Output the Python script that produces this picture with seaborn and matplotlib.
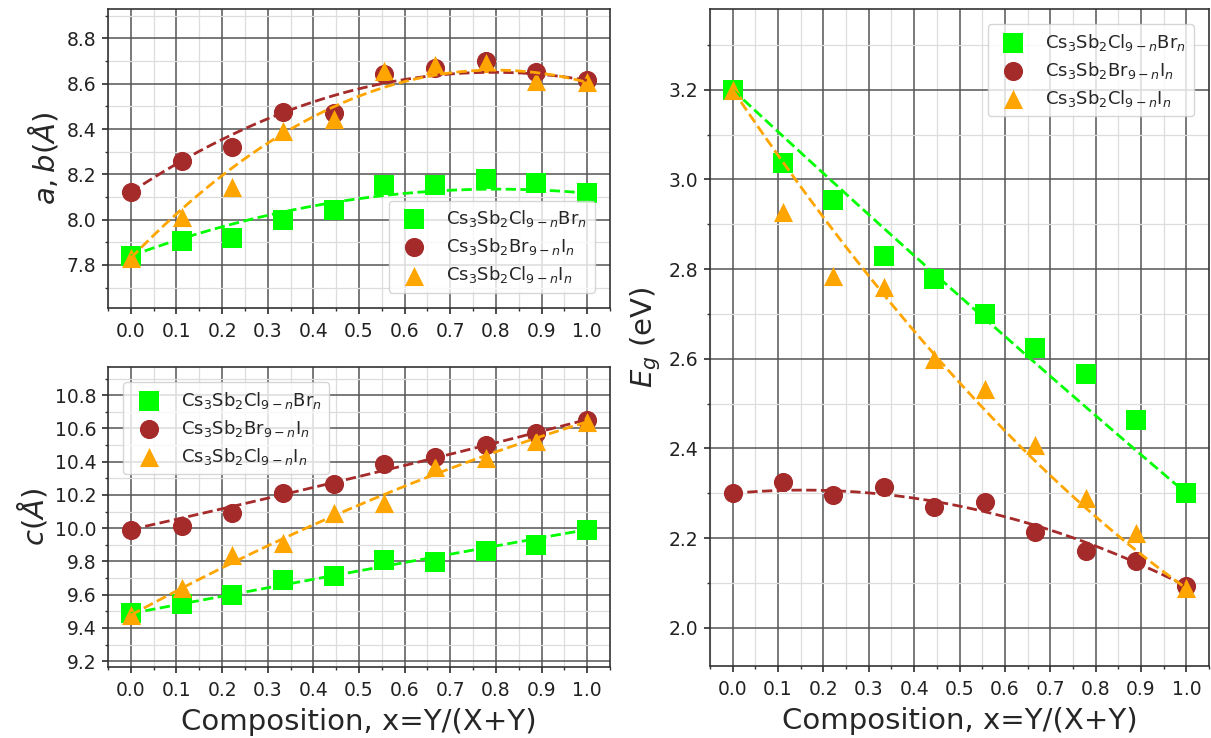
import numpy as np
import pandas as pd
import matplotlib
matplotlib.use("Agg")
import matplotlib.pyplot as plt
from matplotlib.ticker import MultipleLocator, FormatStrFormatter
import seaborn as sns

# Composition steps x = n/9
composition = [0.0, 1/9, 2/9, 3/9, 4/9, 5/9, 6/9, 7/9, 8/9, 1.0]

series_labels = [
    r"Cs$_3$Sb$_2$Cl$_{9-n}$Br$_n$",
    r"Cs$_3$Sb$_2$Br$_{9-n}$I$_n$",
    r"Cs$_3$Sb$_2$Cl$_{9-n}$I$_n$",
]
series_colors = ["#00ff00", "#a52a2a", "#ffa500"]
series_markers = ["s", "o", "^"]

# Lattice parameter a, b (Å)
ab_clbr = [7.84, 7.907, 7.917, 8.00, 8.043, 8.151, 8.154, 8.178, 8.161, 8.117]
ab_bri = [8.121, 8.259, 8.319, 8.477, 8.472, 8.644, 8.670, 8.702, 8.652, 8.615]
ab_cli = [7.83, 8.013, 8.144, 8.391, 8.444, 8.655, 8.681, 8.692, 8.610, 8.606]

# Lattice parameter c (Å)
c_clbr = [9.487, 9.543, 9.597, 9.691, 9.711, 9.808, 9.797, 9.862, 9.898, 9.992]
c_bri = [9.992, 10.014, 10.092, 10.212, 10.269, 10.385, 10.429, 10.499, 10.575, 10.654]
c_cli = [9.477, 9.641, 9.838, 9.912, 10.092, 10.152, 10.369, 10.423, 10.525, 10.640]

# Band gap (eV)
eg_clbr = [3.20, 3.037, 2.953, 2.830, 2.779, 2.699, 2.624, 2.566, 2.464, 2.300]
eg_bri = [2.300, 2.325, 2.297, 2.314, 2.270, 2.281, 2.214, 2.171, 2.150, 2.093]
eg_cli = [3.20, 2.927, 2.784, 2.761, 2.600, 2.533, 2.407, 2.290, 2.212, 2.088]


def bowing_curve(x, y, n=200):
    """Vegard's law with a least-squares bowing term, endpoints fixed."""
    x = np.asarray(x, float)
    y = np.asarray(y, float)
    y0, y1 = y[0], y[-1]
    lin = (1 - x) * y0 + x * y1
    w = x * (1 - x)
    b = -np.sum((y - lin) * w) / np.sum(w * w)
    xs = np.linspace(0, 1, n)
    return xs, (1 - xs) * y0 + xs * y1 - b * xs * (1 - xs)


sns.set_theme(style="ticks")
plt.rcParams.update({
    "font.family": ["DejaVu Sans"],
    "mathtext.fontset": "dejavusans",
    "axes.edgecolor": "#333333",
    "axes.linewidth": 1.2,
    "xtick.direction": "out",
    "ytick.direction": "out",
    "xtick.major.size": 4.5,
    "ytick.major.size": 4.5,
    "xtick.minor.size": 2.5,
    "ytick.minor.size": 2.5,
    "xtick.major.pad": 5.5,
    "ytick.major.pad": 4,
    "xtick.minor.visible": True,
    "ytick.minor.visible": True,
    "xtick.color": "#333333",
    "ytick.color": "#333333",
    "xtick.labelcolor": "#222222",
    "ytick.labelcolor": "#222222",
})

fig = plt.figure(figsize=(12.11, 7.38), dpi=100)
ax_ab = fig.add_axes([108 / 1211, 1 - 308 / 738, 502 / 1211, 299 / 738])
ax_c = fig.add_axes([108 / 1211, 1 - 667 / 738, 502 / 1211, 300 / 738])
ax_eg = fig.add_axes([710 / 1211, 1 - 666 / 738, 499 / 1211, 657 / 738])

panels = [
    (ax_ab, [ab_clbr, ab_bri, ab_cli], (7.61, 8.93), r"$a, b(Å)$", "lower right", False),
    (ax_c, [c_clbr, c_bri, c_cli], (9.165, 10.97), r"$c(Å)$", "upper left", True),
    (ax_eg, [eg_clbr, eg_bri, eg_cli], (1.915, 3.38), r"$E_g$ (eV)", "upper right", True),
]

for ax, values, ylim, ylabel, loc, show_xlabel in panels:
    ax.set_axisbelow(True)
    handles = []
    for vals, lab, col, mk in zip(values, series_labels, series_colors, series_markers):
        df = pd.DataFrame({"x": composition, "y": vals})
        sns.scatterplot(data=df, x="x", y="y", ax=ax, color=col, marker=mk,
                        s=190, linewidth=0, zorder=3, legend=False)
        handles.append(ax.collections[-1])
        xs, ys = bowing_curve(composition, vals)
        sns.lineplot(x=xs, y=ys, ax=ax, color=col, linestyle="--", linewidth=2,
                     errorbar=None, zorder=4, legend=False)

    ax.set_xlim(-0.05, 1.05)
    ax.set_ylim(*ylim)
    ax.xaxis.set_major_locator(MultipleLocator(0.1))
    ax.xaxis.set_minor_locator(MultipleLocator(0.05))
    ax.yaxis.set_major_locator(MultipleLocator(0.2))
    ax.yaxis.set_minor_locator(MultipleLocator(0.1))
    ax.xaxis.set_major_formatter(FormatStrFormatter("%.1f"))
    ax.yaxis.set_major_formatter(FormatStrFormatter("%.1f"))
    ax.grid(which="major", color="#555555", linewidth=1.1)
    ax.grid(which="minor", color="#dddddd", linewidth=0.9)
    ax.tick_params(labelsize=13.5)
    ax.set_ylabel(ylabel, fontsize=21)
    ax.set_xlabel("Composition, x=Y/(X+Y)" if show_xlabel else "", fontsize=21,
                  labelpad=6)

    ax.legend(handles, series_labels, loc=loc, fontsize=13, borderaxespad=0.85,
              labelspacing=0.4, handletextpad=0.8)

fig.savefig("out.png", dpi=100)
